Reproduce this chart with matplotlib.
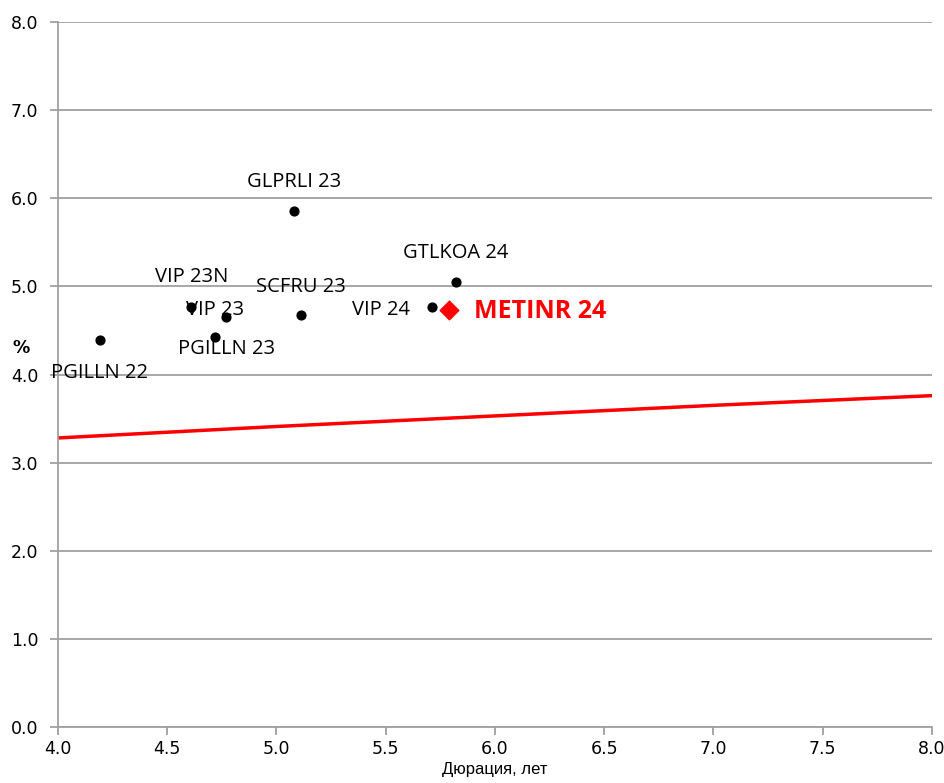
import matplotlib.pyplot as plt

# bonds: duration (years), yield (%)
names = ['PGILLN 22', 'VIP 23N', 'VIP 23', 'PGILLN 23', 'GLPRLI 23',
         'SCFRU 23', 'VIP 24', 'GTLKOA 24']
dur = [4.19, 4.61, 4.77, 4.72, 5.08, 5.11, 5.71, 5.82]
ytm = [4.39, 4.77, 4.65, 4.42, 5.86, 4.67, 4.77, 5.05]
# label offsets in pixels (dx, dy)
offs = [(0, -33), (0, 30), (-11, 7), (11, -12), (0, 29),
        (0, 28), (-51, -3), (0, 29)]

main_name = 'METINR 24'
main_dur = 5.79
main_ytm = 4.73

# red curve
curve_x = [4.0, 5.0, 6.0, 7.0, 8.0]
curve_y = [3.28, 3.41, 3.53, 3.65, 3.76]

plt.rcParams['font.family'] = ['DejaVu Sans']
fig = plt.figure(figsize=(9.45, 7.83), dpi=100)
ax = fig.add_axes([58/945, 1-727/783, (932-58)/945, (727-22)/783])

gray = '#a0a0a0'
ax.set_xlim(4.0, 8.0)
ax.set_ylim(0, 8.0)
ax.set_xticks([4.0 + 0.5*i for i in range(9)])
ax.set_yticks(range(9))
ax.set_xticklabels(['%.1f' % (4.0 + 0.5*i) for i in range(9)], fontsize=12.5)
ax.set_yticklabels(['%.1f' % i for i in range(9)], fontsize=12.5)
ax.yaxis.grid(True, color=gray, lw=1.3)
ax.set_axisbelow(True)
for s in ['top', 'right']:
    ax.spines[s].set_visible(False)
for s in ['left', 'bottom']:
    ax.spines[s].set_color(gray)
    ax.spines[s].set_linewidth(1.3)
ax.tick_params(direction='out', color=gray, length=6, width=1.3)
ax.tick_params(axis='y', pad=8)
ax.tick_params(axis='x', pad=3)

ax.plot(curve_x, curve_y, color='red', lw=2.5)
ax.scatter(dur, ytm, color='black', s=40, zorder=3)
ax.scatter([main_dur], [main_ytm], color='red', marker='D', s=90, zorder=3)

for n, x, y, (dx, dy) in zip(names, dur, ytm, offs):
    ax.annotate(n, (x, y), xytext=(dx, dy), textcoords='offset pixels',
                ha='center', va='center', fontsize=14.5, family='Open Sans')
ax.annotate(main_name, (main_dur, main_ytm), xytext=(25, -1),
            textcoords='offset pixels', ha='left', va='center',
            fontsize=18, fontweight='bold', color='red', family='Open Sans')

ax.set_xlabel('Дюрация, лет', fontsize=12, labelpad=3, family='Liberation Sans')
ax.text(-0.042, 4.3, '%', transform=ax.get_yaxis_transform(), ha='center',
        va='center', fontsize=12.5, fontweight='bold')

fig.savefig('out.png', dpi=100)
